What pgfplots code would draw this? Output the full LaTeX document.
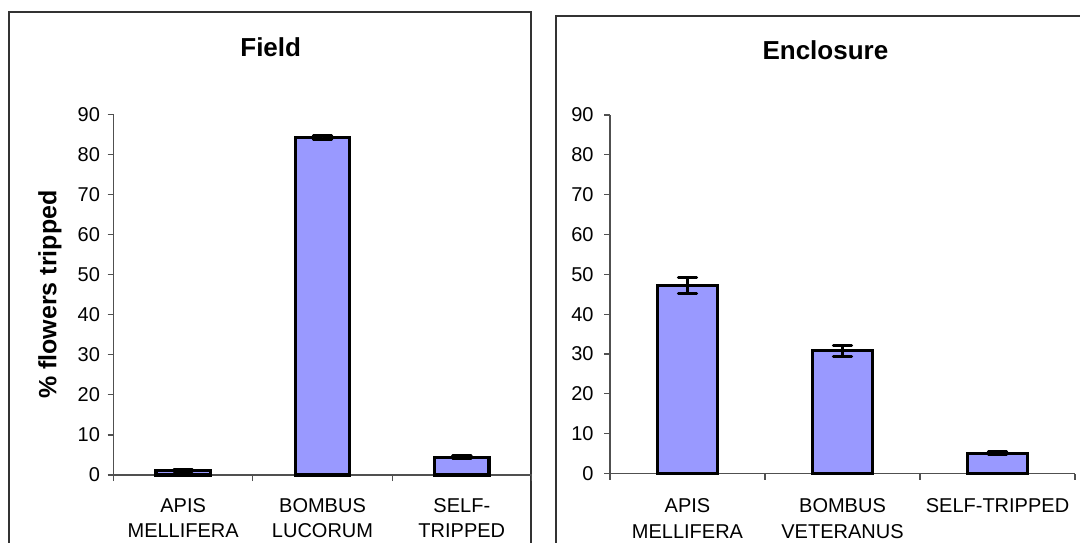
\documentclass[border=0pt]{standalone}
\usepackage{fontspec}
\setmainfont{Liberation Sans}
\usepackage{pgfplots}
\pgfplotsset{compat=1.18}

\definecolor{barblue}{HTML}{9999FF}
\definecolor{framegray}{HTML}{333333}
\definecolor{axisgray}{HTML}{505050}

\pgfplotsset{
  trippanel/.style={
    scale only axis, ybar,
    ymin=0, ymax=90, xmin=-0.5, xmax=2.5,
    enlargelimits=false, clip=false,
    axis x line*=bottom, axis y line*=left,
    axis line style={draw=axisgray, line width=0.6pt},
    ytick={0,10,...,90},
    xtick={-0.5,0.5,1.5,2.5},
    x tick label as interval,
    tick align=outside, major tick length=3pt,
    tick style={draw=axisgray, line width=0.6pt},
    /pgf/number format/assume math mode=true,
    tick label style={font=\fontsize{10}{12}\selectfont, inner sep=0pt},
    yticklabel style={anchor=east},
    xticklabel style={align=center, anchor=north},
  },
  tripbars/.style={
    fill=barblue, draw=black, line width=1.6pt,
    error bars/.cd, y dir=both, y explicit,
    error mark=|,
    error bar style={line width=1.5pt, draw=black},
    error mark options={line width=1.5pt, mark size=4.6pt, draw=black, line cap=round},
  },
}

\begin{document}
\begin{tikzpicture}
\useasboundingbox (0,0) rectangle (540pt,271pt);
\clip (0,0) rectangle (540pt,271pt);

% chart frames
\draw[framegray, line width=0.9pt] (4.65pt,-10pt) rectangle (265.5pt,264.8pt);
\draw[framegray, line width=0.9pt] (278pt,-10pt) rectangle (560pt,263.15pt);

% titles and y label
\node[anchor=base, font=\bfseries\fontsize{13}{15}\selectfont] at (135.35pt,242.5pt) {Field};
\node[anchor=base, font=\bfseries\fontsize{13}{15}\selectfont] at (412.7pt,241pt) {Enclosure};
\node[rotate=90, font=\bfseries\fontsize{12.5}{15}\selectfont] at (25pt,123.7pt) {\% flowers tripped};

% Field
\begin{axis}[trippanel,
  at={(56.75pt,33.5pt)}, anchor=south west,
  width=209pt, height=180.35pt,
  bar width=0.39,
  yticklabel shift=3.6pt,
  xticklabel shift=8.5pt,
  xticklabel style={font=\fontsize{10}{12.6}\selectfont},
  xticklabels={{APIS\\MELLIFERA},{BOMBUS\\LUCORUM},{SELF-\\TRIPPED}},
]
\addplot[tripbars] coordinates {
  (0,1.1)  +- (0,0.15)
  (1,84.2) +- (0,0.45)
  (2,4.4)  +- (0,0.35)
};
\end{axis}

% Enclosure
\begin{axis}[trippanel,
  at={(305pt,34.25pt)}, anchor=south west,
  width=232.5pt, height=179.25pt,
  bar width=0.385,
  yticklabel shift=5pt,
  xticklabel shift=9.5pt,
  xticklabel style={font=\fontsize{10}{12.6}\selectfont},
  xticklabels={{APIS\\MELLIFERA},{BOMBUS\\VETERANUS},{SELF-TRIPPED}},
]
\addplot[tripbars] coordinates {
  (0,47.2) +- (0,1.9)
  (1,30.8) +- (0,1.3)
  (2,5.1)  +- (0,0.35)
};
\end{axis}
\end{tikzpicture}
\end{document}
